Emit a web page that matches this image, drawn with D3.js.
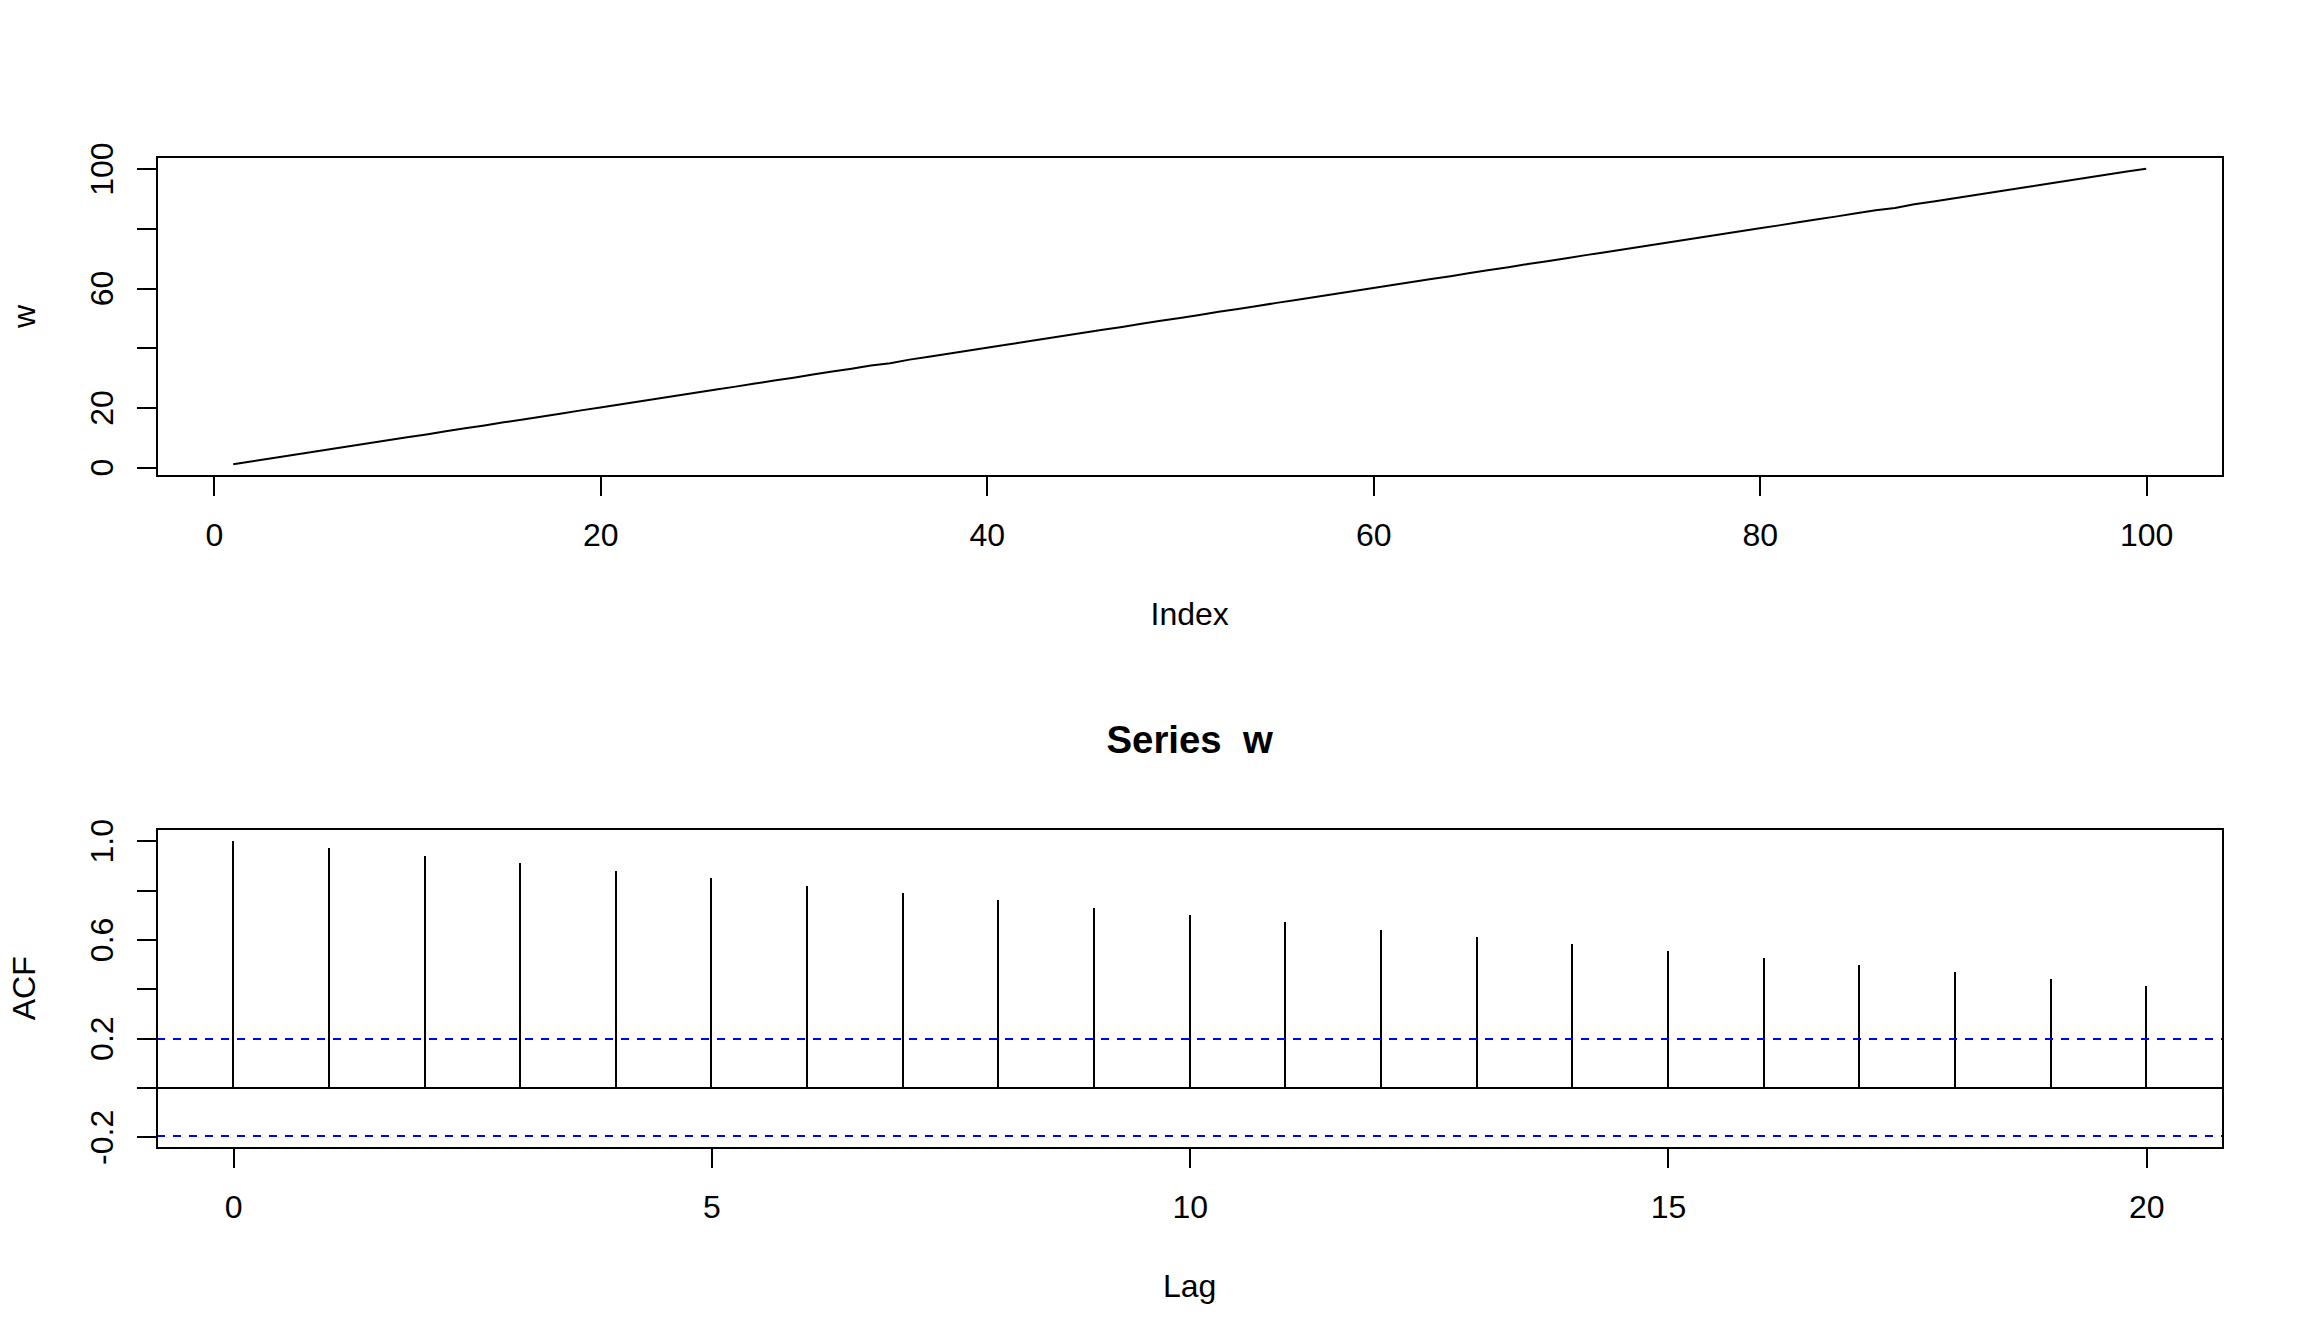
<!DOCTYPE html>
<html><head><meta charset="utf-8">
<script src="https://cdn.jsdelivr.net/npm/d3@7"></script>
<style>html,body{margin:0;padding:0;background:#fff;} svg{display:block;background:#fff;}</style>
</head><body>
<svg id="chart" width="2304" height="1344"></svg>
<script>
// ---------- data ----------
const wIndex = [1,2,3,4,5,6,7,8,9,10,11,12,13,14,15,16,17,18,19,20,21,22,23,24,25,26,27,28,29,30,
31,32,33,34,35,36,37,38,39,40,41,42,43,44,45,46,47,48,49,50,51,52,53,54,55,56,57,58,59,60,
61,62,63,64,65,66,67,68,69,70,71,72,73,74,75,76,77,78,79,80,81,82,83,84,85,86,87,88,89,90,
91,92,93,94,95,96,97,98,99,100];
const wValues = [
1.01, 1.98, 3.02, 4.00, 4.97, 6.03, 7.01, 7.99, 9.02, 10.00,
10.98, 12.03, 13.01, 13.97, 15.02, 16.00, 17.01, 17.98, 19.03, 20.00,
20.98, 22.02, 23.00, 23.99, 25.03, 26.01, 26.98, 28.02, 29.00, 29.97,
31.02, 32.01, 32.99, 34.03, 34.78, 36.02, 37.00, 37.98, 39.01, 40.00,
40.98, 42.02, 43.01, 43.99, 45.02, 46.00, 46.97, 48.03, 49.01, 50.00,
50.98, 52.02, 53.00, 53.99, 55.03, 56.01, 56.98, 58.02, 59.00, 60.01,
60.99, 62.02, 63.00, 63.98, 65.02, 66.01, 66.99, 68.03, 69.00, 69.98,
71.02, 72.00, 73.01, 73.98, 75.02, 76.00, 76.99, 78.02, 79.00, 80.01,
80.98, 82.02, 83.00, 83.99, 85.03, 86.01, 86.78, 88.02, 89.00, 89.98,
91.02, 92.00, 93.01, 93.98, 95.02, 96.00, 96.99, 98.02, 99.00, 99.92];

const acfLags = [0,1,2,3,4,5,6,7,8,9,10,11,12,13,14,15,16,17,18,19,20];
const acfValues = [1.000, 0.970, 0.938, 0.909, 0.879, 0.848, 0.818, 0.789, 0.759, 0.729,
                   0.700, 0.669, 0.640, 0.611, 0.582, 0.554, 0.525, 0.497, 0.469, 0.440, 0.412];
const ciBound = 0.196;

const topXTicks = [0,20,40,60,80,100];
const topYTicks = [0,20,40,60,80,100];
const topYLabels = ["0","20","","60","","100"];
const lagTicks = [0,5,10,15,20];
const acfYTicks = [-0.2,0,0.2,0.4,0.6,0.8,1.0];
const acfYLabels = ["-0.2","","0.2","","0.6","","1.0"];

const topXLabel = "Index";
const topYLabel = "w";
const acfTitle = "Series  w";
const acfXLabel = "Lag";
const acfYLabel = "ACF";

// ---------- layout ----------
const FONT = "'Liberation Sans', Arial, Helvetica, sans-serif";
const LW = 2;
const left = 156.7, right = 2222.7;
const top1 = 157, bot1 = 476;
const top2 = 828.9, bot2 = 1147.7;
const tickLen = 20;

const svg = d3.select("#chart");
svg.append("rect").attr("width",2304).attr("height",1344).attr("fill","#fff");

function pad(ext){ const d = (ext[1]-ext[0])*0.04; return [ext[0]-d, ext[1]+d]; }

function drawAxes(g, xs, ys, xTicks, xLabs, yTicks, yLabs, yTop, yBot){
  const ax = g.append("g").attr("transform",`translate(0,${yBot})`)
    .call(d3.axisBottom(xs).tickValues(xTicks).tickSize(tickLen).tickSizeOuter(0)
      .tickFormat((d,i)=>xLabs[i]));
  ax.select(".domain").remove();
  ax.selectAll(".tick line").attr("stroke","#000").attr("stroke-width",LW).attr("shape-rendering","crispEdges");
  ax.selectAll(".tick text").attr("y",70).attr("dy",null)
    .attr("font-family",FONT).attr("font-size",32).attr("fill","#000");

  const ay = g.append("g").attr("transform",`translate(${left},0)`)
    .call(d3.axisLeft(ys).tickValues(yTicks).tickSize(tickLen).tickSizeOuter(0)
      .tickFormat((d,i)=>yLabs[i]));
  ay.select(".domain").remove();
  ay.selectAll(".tick line").attr("stroke","#000").attr("stroke-width",LW).attr("shape-rendering","crispEdges");
  ay.selectAll(".tick text").attr("x",0).attr("y",-44).attr("dy",null)
    .attr("transform","rotate(-90)").attr("text-anchor","middle")
    .attr("font-family",FONT).attr("font-size",32).attr("fill","#000");

  g.append("rect").attr("x",left).attr("y",yTop).attr("width",right-left).attr("height",yBot-yTop)
    .attr("fill","none").attr("stroke","#000").attr("stroke-width",LW).attr("shape-rendering","crispEdges");
}

// ---------- top panel ----------
const g1 = svg.append("g");
const x1 = d3.scaleLinear().domain(pad(d3.extent(wIndex))).range([left,right]);
const y1 = d3.scaleLinear().domain(pad(d3.extent(wValues))).range([bot1,top1]);
g1.append("path").datum(wIndex.map((d,i)=>[d,wValues[i]]))
  .attr("d", d3.line().x(d=>x1(d[0])).y(d=>y1(d[1])))
  .attr("fill","none").attr("stroke","#000").attr("stroke-width",LW);
drawAxes(g1, x1, y1, topXTicks, topXTicks.map(String), topYTicks, topYLabels, top1, bot1);
g1.append("text").attr("x",(left+right)/2).attr("y",bot1+148.5).attr("text-anchor","middle")
  .attr("font-family",FONT).attr("font-size",32).text(topXLabel);
g1.append("text").attr("transform",`translate(35,${(top1+bot1)/2}) rotate(-90)`).attr("text-anchor","middle")
  .attr("font-family",FONT).attr("font-size",32).text(topYLabel);

// ---------- ACF panel ----------
const g2 = svg.append("g");
const x2 = d3.scaleLinear().domain(pad(d3.extent(acfLags))).range([left,right]);
const y2 = d3.scaleLinear().domain(pad([Math.min(-ciBound, d3.min(acfValues)), Math.max(ciBound, d3.max(acfValues))])).range([bot2,top2]);

g2.selectAll("line.bar").data(acfLags).join("line").attr("class","bar")
  .attr("x1",d=>Math.round(x2(d))).attr("x2",d=>Math.round(x2(d)))
  .attr("y1",y2(0)).attr("y2",(d,i)=>y2(acfValues[i]))
  .attr("stroke","#000").attr("stroke-width",LW).attr("shape-rendering","crispEdges");

g2.append("line").attr("x1",left).attr("x2",right).attr("y1",y2(0)).attr("y2",y2(0))
  .attr("stroke","#000").attr("stroke-width",LW).attr("shape-rendering","crispEdges");

g2.selectAll("line.ci").data([ciBound,-ciBound]).join("line").attr("class","ci")
  .attr("x1",left).attr("x2",right).attr("y1",d=>y2(d)).attr("y2",d=>y2(d))
  .attr("stroke","#0000FF").attr("stroke-width",LW).attr("stroke-dasharray","8,8")
  .attr("shape-rendering","crispEdges");

drawAxes(g2, x2, y2, lagTicks, lagTicks.map(String), acfYTicks, acfYLabels, top2, bot2);

g2.append("text").attr("x",(left+right)/2).attr("y",753).attr("text-anchor","middle")
  .attr("font-family",FONT).attr("font-size",38.4).attr("font-weight","bold")
  .style("white-space","pre").attr("xml:space","preserve").text(acfTitle);
g2.append("text").attr("x",(left+right)/2).attr("y",bot2+149).attr("text-anchor","middle")
  .attr("font-family",FONT).attr("font-size",32).text(acfXLabel);
g2.append("text").attr("transform",`translate(35,${(top2+bot2)/2}) rotate(-90)`).attr("text-anchor","middle")
  .attr("font-family",FONT).attr("font-size",32).text(acfYLabel);
</script>
</body></html>
